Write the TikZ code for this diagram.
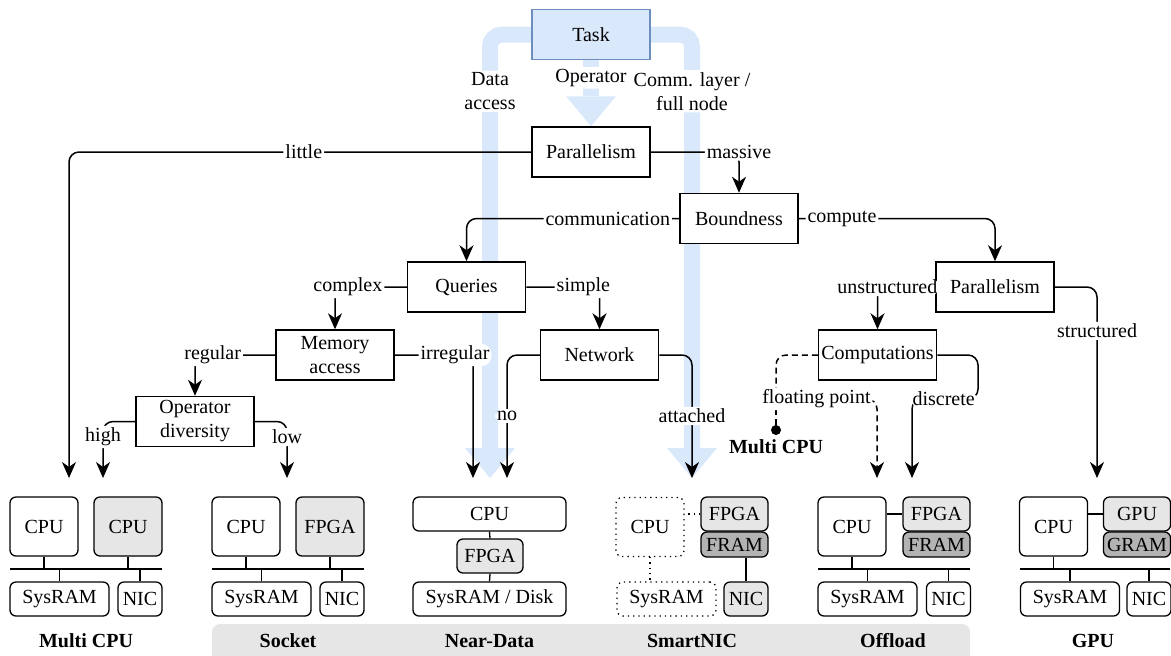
\documentclass[tikz,border=0pt]{standalone}
\usepackage{fontspec}
\setmainfont{Liberation Serif}
\usetikzlibrary{arrows.meta,backgrounds}
\definecolor{bandblue}{HTML}{DAE8FC}
\definecolor{taskblue}{HTML}{6C8EBF}
\definecolor{accgray}{HTML}{E6E6E6}
\definecolor{memgray}{HTML}{B3B3B3}

\begin{document}
\begin{tikzpicture}[
    x=0.5pt, y=-0.5pt,
    decision/.style={draw, line width=0.75pt, fill=white, minimum width=59pt, minimum height=25pt, inner sep=1pt, align=center},
    taskbox/.style={decision, draw=taskblue, fill=bandblue, line width=0.6pt},
    lbl/.style={fill=white, text=black, inner sep=1pt, align=center},
    flow/.style={line width=0.75pt, rounded corners=5pt, -{Stealth[length=8pt, width=7pt, inset=2.5pt]}},
    dashedflow/.style={flow, dash pattern=on 3pt off 2pt},
    band/.style={bandblue, line width=8pt, rounded corners=6pt, -{Triangle[length=15pt, width=25pt, line width=0pt]}},
    hw/.style={draw, line width=0.65pt, rounded corners=3pt, fill=white, inner sep=0pt},
    acc/.style={hw, fill=accgray},
    mem/.style={hw, fill=memgray},
    ghost/.style={hw, dotted},
    wire/.style={line width=0.65pt},
    cpubox/.style={minimum width=34pt, minimum height=29.5pt},
    halfbox/.style={minimum width=33.5pt, minimum height=17pt},
    lowbox/.style={minimum width=33.5pt, minimum height=12.5pt},
    rambox/.style={minimum width=49.5pt, minimum height=17pt},
    nicbox/.style={minimum width=22pt, minimum height=17pt},
    widebox/.style={minimum width=76.5pt, minimum height=17pt},
    fpgabox/.style={minimum width=33pt, minimum height=17pt},
    blocktitle/.style={font=\bfseries},
]
    \useasboundingbox (0,0) rectangle (1171,655);
    \clip (0,0) rectangle (1171,655);

    % Decision tree
    \node[taskbox] (task) at (591,34.5) {Task};
    \node[decision] (par1) at (591,152) {Parallelism};
    \node[decision] (bound) at (739,218.5) {Boundness};
    \node[decision] (query) at (466.5,287) {Queries};
    \node[decision] (par2) at (995,287) {Parallelism};
    \node[decision] (mem) at (335,355) {Memory\\access};
    \node[decision] (net) at (599.5,355) {Network};
    \node[decision] (comp) at (877.5,355) {Computations};
    \node[decision] (opdiv) at (195,421.5) {Operator\\diversity};

    % Entry points above the hardware blocks
    \coordinate (mc_in1) at (69,478);
    \coordinate (mc_in2) at (103,478);
    \coordinate (sk_in) at (287,478);
    \coordinate (nd_in1) at (473,478);
    \coordinate (nd_in2) at (507,478);
    \coordinate (nd_band) at (490,478);
    \coordinate (sn_in) at (692,478);
    \coordinate (of_in1) at (877,478);
    \coordinate (of_in2) at (912,478);
    \coordinate (gp_in) at (1097,478);
    \coordinate (fpbend) at (776,399);
    \coordinate (dsbend) at (978,399);

    % Strip and task flows behind everything
    \begin{scope}[on background layer]
        \fill[accgray, rounded corners=4pt] (212,670) -- (212,624) -- (970,624) -- (970,670) -- cycle;
        \draw[band] (task.west) -| node[lbl, pos=0.564] {Data\\access} (nd_band);
        \draw[band] (task.south) -- node[lbl, pos=0.27] {Operator} (par1.north);
        \draw[band] (task.east) -| node[lbl, pos=0.564] {Comm. layer /\\full node} (sn_in);
    \end{scope}

    % Decisions
    \draw[flow] (par1.west) -| node[lbl, pos=0.246] {little} (mc_in1);
    \draw[flow] (par1.east) -| node[lbl, pos=0.5] {massive} (bound.north);
    \draw[flow] (bound.west) -| node[lbl, pos=0.168] {communication} (query.north);
    \draw[flow] (bound.east) -| node[lbl, pos=0.11] {compute} (par2.north);
    \draw[flow] (query.west) -| node[lbl, pos=0.41] {complex} (mem.north);
    \draw[flow] (query.east) -| node[lbl, pos=0.39] {simple} (net.north);
    \draw[flow] (mem.west) -| node[lbl, pos=0.39] {regular} (opdiv.north);
    \draw[flow] (mem.east) -| node[lbl, pos=0.385] {irregular} (nd_in1);
    \draw[flow] (opdiv.west) -| node[lbl, pos=0.637] {high} (mc_in2);
    \draw[flow] (opdiv.east) -| node[lbl, pos=0.637] {low} (sk_in);
    \draw[flow] (net.west) -| node[lbl, pos=0.748] {no} (nd_in2);
    \draw[flow] (net.east) -| node[lbl, pos=0.748] {attached} (sn_in);
    \draw[flow] (par2.west) -| node[lbl, pos=0.415] {unstructured} (comp.north);
    \draw[flow] (par2.east) -| node[lbl, pos=0.615] {structured} (gp_in);
    \node[circle, fill=black, inner sep=0pt, minimum size=5pt] (mcdot) at (776,430) {};
    \node[blocktitle] (mcref) at (776,447) {Multi CPU};
    \draw[line width=0.75pt, dash pattern=on 3pt off 2pt] (fpbend) -- (mcdot);
    \draw[dashedflow] (comp.west) -| (fpbend) -| node[lbl, pos=0.2] {floating point} (of_in1);
    \draw[flow] (comp.east) -| (dsbend) -| node[lbl, pos=0.26] {discrete} (of_in2);

    % Multi CPU
    \node[hw, cpubox] (mc_cpu) at (44,526.5) {CPU};
    \node[acc, cpubox] (mc_acc) at (128,526.5) {CPU};
    \node[hw, rambox] (mc_ram) at (59.5,599) {SysRAM};
    \node[hw, nicbox] (mc_nic) at (140,599) {NIC};
    % Socket
    \node[hw, cpubox] (sk_cpu) at (246,526.5) {CPU};
    \node[acc, cpubox] (sk_acc) at (330,526.5) {FPGA};
    \node[hw, rambox] (sk_ram) at (261.5,599) {SysRAM};
    \node[hw, nicbox] (sk_nic) at (342,599) {NIC};
    % Near-Data
    \node[hw, widebox] (nd_cpu) at (489.5,514) {CPU};
    \node[acc, fpgabox] (nd_fpga) at (490,556) {FPGA};
    \node[hw, widebox] (nd_ram) at (489.5,599) {SysRAM / Disk};
    \draw[wire] (nd_cpu.south) -- (nd_fpga.north);
    \draw[wire] (nd_fpga.south) -- (nd_ram.north);
    % SmartNIC
    \node[ghost, cpubox] (sn_cpu) at (650,527) {CPU};
    \node[acc, halfbox] (sn_fpga) at (734.5,514) {FPGA};
    \node[mem, lowbox] (sn_fram) at (734.5,544.5) {FRAM};
    \node[ghost, rambox] (sn_ram) at (666.5,599) {SysRAM};
    \node[acc, nicbox] (sn_nic) at (746,599) {NIC};
    \draw[wire, dotted] (sn_fpga.west) -- (sn_fpga.west -| sn_cpu.east);
    \draw[wire, dotted] (sn_cpu.south) -- (sn_cpu.south |- sn_ram.north);
    \draw[wire] (sn_nic.north |- sn_fram.south) -- (sn_nic.north);
    % Offload
    \node[hw, cpubox] (of_cpu) at (852,526.5) {CPU};
    \node[acc, halfbox] (of_acc) at (936.5,514) {FPGA};
    \node[mem, lowbox] (of_fram) at (936.5,544.5) {FRAM};
    \node[hw, rambox] (of_ram) at (867.5,599) {SysRAM};
    \node[hw, nicbox] (of_nic) at (948.5,599) {NIC};
    % GPU
    \node[hw, cpubox] (gp_cpu) at (1053.5,526.5) {CPU};
    \node[acc, halfbox] (gp_acc) at (1137,514) {GPU};
    \node[mem, lowbox] (gp_gram) at (1137,544.5) {GRAM};
    \node[hw, rambox] (gp_ram) at (1070,599) {SysRAM};
    \node[hw, nicbox] (gp_nic) at (1149,599) {NIC};

    % Buses
    \foreach \b/\l/\r in {mc/10/162, sk/212/364, of/818/970, gp/1020/1170} {
        \coordinate (\b_busL) at (\l,569);
        \coordinate (\b_busR) at (\r,569);
        \draw[wire, line width=0.75pt] (\b_busL) -- (\b_busR);
        \draw[wire] (\b_cpu.south) -- (\b_cpu.south |- \b_busL);
        \draw[wire] (\b_ram.north) -- (\b_ram.north |- \b_busL);
        \draw[wire] (\b_nic.north) -- (\b_nic.north |- \b_busL);
    }
    \foreach \b in {mc, sk}
        \draw[wire] (\b_acc.south) -- (\b_acc.south |- \b_busL);
    \foreach \b in {of, gp}
        \draw[wire] (\b_cpu.east |- \b_acc.west) -- (\b_acc.west);

    % Block titles
    \node[blocktitle] (mc_title) at (86,641) {Multi CPU};
    \node[blocktitle] (sk_title) at (288,641) {Socket};
    \node[blocktitle] (nd_title) at (489.5,641) {Near-Data};
    \node[blocktitle] (sn_title) at (692,641) {SmartNIC};
    \node[blocktitle] (of_title) at (893,641) {Offload};
    \node[blocktitle] (gp_title) at (1093,641) {GPU};
\end{tikzpicture}
\end{document}
